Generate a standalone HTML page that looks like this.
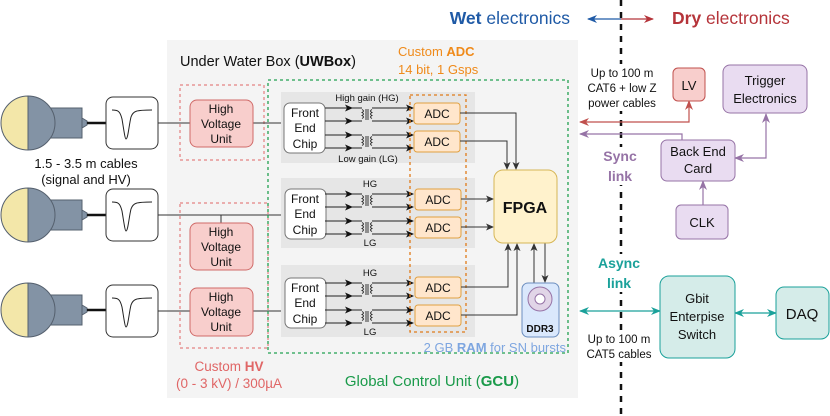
<!DOCTYPE html>
<html><head><meta charset="utf-8"><style>
html,body{margin:0;padding:0;background:#fff;}
svg{display:block;font-family:"Liberation Sans",sans-serif;}
</style></head><body>
<svg width="830" height="416" viewBox="0 0 830 416" xmlns="http://www.w3.org/2000/svg">
<defs>
<marker id="ak" markerWidth="8" markerHeight="8" refX="7" refY="4" orient="auto" markerUnits="userSpaceOnUse"><path d="M0,0.5 L8,4 L0,7.5 L2,4 z" fill="#111"/></marker>
<marker id="ag" markerWidth="8" markerHeight="8" refX="7" refY="4" orient="auto" markerUnits="userSpaceOnUse"><path d="M0,0.5 L8,4 L0,7.5 L2,4 z" fill="#333"/></marker>
<marker id="ar" markerWidth="10" markerHeight="8" refX="9" refY="4" orient="auto-start-reverse" markerUnits="userSpaceOnUse"><path d="M0,0 L10,4 L0,8 L3,4 z" fill="#c0504d"/></marker>
<marker id="ap" markerWidth="10" markerHeight="8" refX="9" refY="4" orient="auto-start-reverse" markerUnits="userSpaceOnUse"><path d="M0,0 L10,4 L0,8 L3,4 z" fill="#9673a6"/></marker>
<marker id="at" markerWidth="10" markerHeight="8" refX="9" refY="4" orient="auto-start-reverse" markerUnits="userSpaceOnUse"><path d="M0,0 L10,4 L0,8 L3,4 z" fill="#1aa19a"/></marker>
<marker id="ab" markerWidth="10" markerHeight="8" refX="9" refY="4" orient="auto-start-reverse" markerUnits="userSpaceOnUse"><path d="M0,0 L10,4 L0,8 L3,4 z" fill="#1f5aa6"/></marker>
<marker id="ared" markerWidth="10" markerHeight="8" refX="9" refY="4" orient="auto" markerUnits="userSpaceOnUse"><path d="M0,0 L10,4 L0,8 L3,4 z" fill="#b5343a"/></marker>
<g id="pmt">
 <rect x="50" y="-15" width="32" height="30" fill="#8393a5" stroke="#55606e"/>
 <path d="M82,-5 L87,-2 L87,2 L82,5z" fill="#8393a5" stroke="#55606e"/>
 <line x1="87" y1="0" x2="107" y2="0" stroke="#111" stroke-width="2.5"/>
 <path d="M28,-27 A27,27 0 0 1 28,27 Z" fill="#8393a5" stroke="#55606e"/>
 <path d="M28,-27 A27,27 0 0 0 28,27 Z" fill="#f3e7a9" stroke="#55606e"/>
</g>
<g id="wave">
 <rect x="0" y="0" width="52" height="52" rx="7" fill="#fff" stroke="#333"/>
 <path d="M6,13 C12,13 14,14 16,22 C18,34 19,42 20,42 C22,42 23,28 25,20 C27,14 30,13 46,13" fill="none" stroke="#222"/>
</g>
<g id="chan" stroke="#222" fill="none">
 <line x1="325" y1="0" x2="352" y2="0" marker-end="url(#ak)"/>
 <line x1="325" y1="13" x2="352" y2="13" marker-end="url(#ak)"/>
 <line x1="352" y1="0" x2="362" y2="0"/><line x1="352" y1="13" x2="362" y2="13"/>
 <line x1="372" y1="0" x2="413" y2="0" marker-end="url(#ak)"/>
 <line x1="372" y1="13" x2="413" y2="13" marker-end="url(#ak)"/>
 <path d="M362,1.5 q3,1.5 0,3 q3,1.5 0,3 q3,1.5 0,3 M366,1 v11 M368,1 v11 M372,1.5 q-3,1.5 0,3 q-3,1.5 0,3 q-3,1.5 0,3" stroke-width="0.9"/>
</g>
</defs>

<rect x="167" y="40" width="411" height="358" fill="#f4f4f4"/>
<text x="180" y="66" font-size="14.5" fill="#111">Under Water Box (<tspan font-weight="bold">UWBox</tspan>)</text>
<text x="398" y="56" font-size="13" fill="#ef8a1a">Custom <tspan font-weight="bold">ADC</tspan></text>
<text x="398" y="74" font-size="13" fill="#ef8a1a">14 bit, 1 Gsps</text>

<line x1="621" y1="0" x2="621" y2="416" stroke="#111" stroke-width="2.5" stroke-dasharray="6,6"/>
<text x="570" y="24" font-size="17.5" fill="#1f5aa6" text-anchor="end"><tspan font-weight="bold">Wet</tspan> electronics</text>
<text x="672" y="24" font-size="17.5" fill="#b5343a"><tspan font-weight="bold">Dry</tspan> electronics</text>
<line x1="621" y1="19" x2="588" y2="19" stroke="#1f5aa6" stroke-width="1.3" marker-end="url(#ab)"/>
<line x1="621" y1="19" x2="653" y2="19" stroke="#b5343a" stroke-width="1.3" marker-end="url(#ared)"/>

<use href="#pmt" x="0" y="123"/>
<use href="#pmt" x="0" y="215"/>
<use href="#pmt" x="0" y="310"/>
<use href="#wave" x="106" y="97"/>
<use href="#wave" x="106" y="189"/>
<use href="#wave" x="106" y="285"/>
<text x="86" y="168" font-size="13" text-anchor="middle" fill="#111">1.5 - 3.5 m cables</text>
<text x="86" y="184" font-size="13" text-anchor="middle" fill="#111">(signal and HV)</text>

<rect x="180" y="85" width="84" height="75" fill="none" stroke="#e06666" stroke-dasharray="3,3"/>
<rect x="180" y="203" width="88" height="145" fill="none" stroke="#e06666" stroke-dasharray="3,3"/>
<g stroke="#333" fill="none">
<line x1="158" y1="123" x2="190" y2="123"/><line x1="253" y1="123" x2="284" y2="123"/>
<line x1="158" y1="215" x2="283" y2="215"/><line x1="221" y1="215" x2="221" y2="223"/>
<line x1="158" y1="311" x2="190" y2="311"/><line x1="253" y1="311" x2="284" y2="311"/>
</g>
<g fill="#f8cecc" stroke="#d06a68">
<rect x="190" y="100" width="63" height="47" rx="7"/>
<rect x="190" y="223" width="63" height="47" rx="7"/>
<rect x="190" y="288" width="63" height="48" rx="7"/>
</g>
<g font-size="12" text-anchor="middle" fill="#111">
<text x="221" y="113">High</text><text x="221" y="128">Voltage</text><text x="221" y="143">Unit</text>
<text x="221" y="236">High</text><text x="221" y="251">Voltage</text><text x="221" y="266">Unit</text>
<text x="221" y="301">High</text><text x="221" y="316">Voltage</text><text x="221" y="331">Unit</text>
</g>
<text x="229" y="371" font-size="13.5" text-anchor="middle" fill="#e06666">Custom <tspan font-weight="bold">HV</tspan></text>
<text x="229" y="388" font-size="13.5" text-anchor="middle" fill="#e06666">(0 - 3 kV) / 300µA</text>

<rect x="268" y="80" width="300" height="273" fill="none" stroke="#22a050" stroke-width="1.3" stroke-dasharray="3,3"/>
<text x="432" y="386" font-size="15" text-anchor="middle" fill="#1a9a4a">Global Control Unit (<tspan font-weight="bold">GCU</tspan>)</text>

<g fill="#e6e6e6">
<rect x="281" y="92" width="194" height="71"/>
<rect x="281" y="178" width="194" height="70"/>
<rect x="281" y="265" width="194" height="72"/>
</g>
<g fill="#fff" stroke="#777">
<rect x="284" y="103" width="41" height="50" rx="6"/>
<rect x="285" y="189" width="41" height="50" rx="6"/>
<rect x="285" y="278" width="41" height="50" rx="6"/>
</g>
<g font-size="12" text-anchor="middle" fill="#111">
<text x="305" y="117">Front</text><text x="305" y="132">End</text><text x="305" y="148">Chip</text>
<text x="305" y="203">Front</text><text x="305" y="218">End</text><text x="305" y="234">Chip</text>
<text x="305" y="292">Front</text><text x="305" y="307">End</text><text x="305" y="323">Chip</text>
</g>
<use href="#chan" x="0" y="108"/><use href="#chan" x="0" y="135"/>
<use href="#chan" x="0" y="194"/><use href="#chan" x="0" y="221"/>
<use href="#chan" x="0" y="283"/><use href="#chan" x="0" y="310"/>
<g font-size="9.5" text-anchor="middle" fill="#111">
<text x="367" y="101">High gain (HG)</text><text x="368" y="162">Low gain (LG)</text>
<text x="370" y="187">HG</text><text x="370" y="246">LG</text>
<text x="370" y="276">HG</text><text x="370" y="335">LG</text>
</g>
<rect x="410" y="95" width="56" height="237" fill="none" stroke="#e07b1a" stroke-width="1.3" stroke-dasharray="3,3"/>
<g fill="#ffe6cc" stroke="#e0a040">
<rect x="414" y="103" width="46" height="21" rx="3"/><rect x="414" y="131" width="46" height="21" rx="3"/>
<rect x="415" y="189" width="46" height="21" rx="3"/><rect x="415" y="217" width="46" height="21" rx="3"/>
<rect x="415" y="277" width="46" height="21" rx="3"/><rect x="415" y="305" width="46" height="21" rx="3"/>
</g>
<g font-size="12" text-anchor="middle" fill="#111">
<text x="437" y="118">ADC</text><text x="437" y="146">ADC</text>
<text x="438" y="204">ADC</text><text x="438" y="232">ADC</text>
<text x="438" y="292">ADC</text><text x="438" y="320">ADC</text>
</g>
<g stroke="#333" fill="none">
<polyline points="460,113 516,113 516,169" marker-end="url(#ag)"/>
<polyline points="460,141 507,141 507,169" marker-end="url(#ag)"/>
<line x1="461" y1="199" x2="493" y2="199" marker-end="url(#ag)"/>
<line x1="461" y1="227" x2="493" y2="227" marker-end="url(#ag)"/>
<polyline points="461,287 508,287 508,244" marker-end="url(#ag)"/>
<polyline points="461,315 517,315 517,244" marker-end="url(#ag)"/>
<line x1="534" y1="283" x2="534" y2="244" marker-end="url(#ag)"/>
<line x1="545" y1="243" x2="545" y2="282" marker-end="url(#ag)"/>
</g>
<rect x="494" y="170" width="63" height="73" rx="9" fill="#fff2cc" stroke="#d6b656"/>
<text x="525" y="213" font-size="16" font-weight="bold" text-anchor="middle" fill="#111">FPGA</text>
<rect x="522" y="283" width="37" height="54" rx="6" fill="#dae8fc" stroke="#6c8ebf"/>
<circle cx="540" cy="299" r="12" fill="#e1d5e7" stroke="#9673a6"/>
<circle cx="540" cy="299" r="5" fill="#fff" stroke="#9673a6"/>
<text x="540" y="332" font-size="10" font-weight="bold" text-anchor="middle" fill="#111">DDR3</text>
<text x="566" y="352" font-size="13" fill="#7ea6e0" text-anchor="end">2 GB <tspan font-weight="bold">RAM</tspan> for SN bursts</text>

<g fill="#fff">
<rect x="582" y="64" width="80" height="47"/>
<rect x="600" y="147" width="40" height="38"/>
<rect x="594" y="254" width="50" height="38"/>
<rect x="582" y="331" width="76" height="31"/>
</g>
<g font-size="11.5" text-anchor="middle" fill="#111">
<text x="622" y="77">Up to 100 m</text><text x="622" y="92">CAT6 + low Z</text><text x="622" y="107">power cables</text>
<text x="619" y="343">Up to 100 m</text><text x="619" y="358">CAT5 cables</text>
</g>
<text x="620" y="161" font-size="14" font-weight="bold" text-anchor="middle" fill="#9673a6">Sync</text>
<text x="620" y="181" font-size="14" font-weight="bold" text-anchor="middle" fill="#9673a6">link</text>
<text x="619" y="268" font-size="14" font-weight="bold" text-anchor="middle" fill="#1aa19a">Async</text>
<text x="619" y="288" font-size="14" font-weight="bold" text-anchor="middle" fill="#1aa19a">link</text>

<polyline points="580,122 689,122 689,101" fill="none" stroke="#c0504d" stroke-width="1.2" marker-start="url(#ar)" marker-end="url(#ar)"/>
<polyline points="580,134 682,134 682,140" fill="none" stroke="#9673a6" stroke-width="1.2" marker-start="url(#ap)"/>
<polyline points="735,158 766,158 766,114" fill="none" stroke="#9673a6" stroke-width="1.2" marker-start="url(#ap)" marker-end="url(#ap)"/>
<line x1="703" y1="205" x2="703" y2="181" stroke="#9673a6" stroke-width="1.2" marker-end="url(#ap)"/>
<line x1="580" y1="311" x2="660" y2="311" stroke="#1aa19a" stroke-width="1.2" marker-start="url(#at)" marker-end="url(#at)"/>
<line x1="735" y1="313" x2="776" y2="313" stroke="#1aa19a" stroke-width="1.2" marker-start="url(#at)" marker-end="url(#at)"/>

<rect x="673" y="68" width="32" height="33" rx="5" fill="#f8cecc" stroke="#c0504d"/>
<text x="689" y="90" font-size="13" text-anchor="middle" fill="#111">LV</text>
<g fill="#e9dcf1" stroke="#9673a6">
<rect x="723" y="65" width="84" height="48" rx="7"/>
<rect x="661" y="140" width="74" height="41" rx="6"/>
<rect x="676" y="205" width="52" height="34" rx="5"/>
</g>
<g font-size="13" text-anchor="middle" fill="#111">
<text x="765" y="85">Trigger</text><text x="765" y="103">Electronics</text>
<text x="698" y="156">Back End</text><text x="698" y="173">Card</text>
<text x="702" y="227">CLK</text>
</g>
<g fill="#d5ece9" stroke="#1aa19a">
<rect x="660" y="276" width="75" height="82" rx="9"/>
<rect x="776" y="287" width="53" height="52" rx="8"/>
</g>
<g font-size="13" text-anchor="middle" fill="#111">
<text x="697" y="303">Gbit</text><text x="697" y="321">Enterpise</text><text x="697" y="339">Switch</text>
</g>
<text x="802" y="319" font-size="15" text-anchor="middle" fill="#111">DAQ</text>
</svg>
</body></html>
